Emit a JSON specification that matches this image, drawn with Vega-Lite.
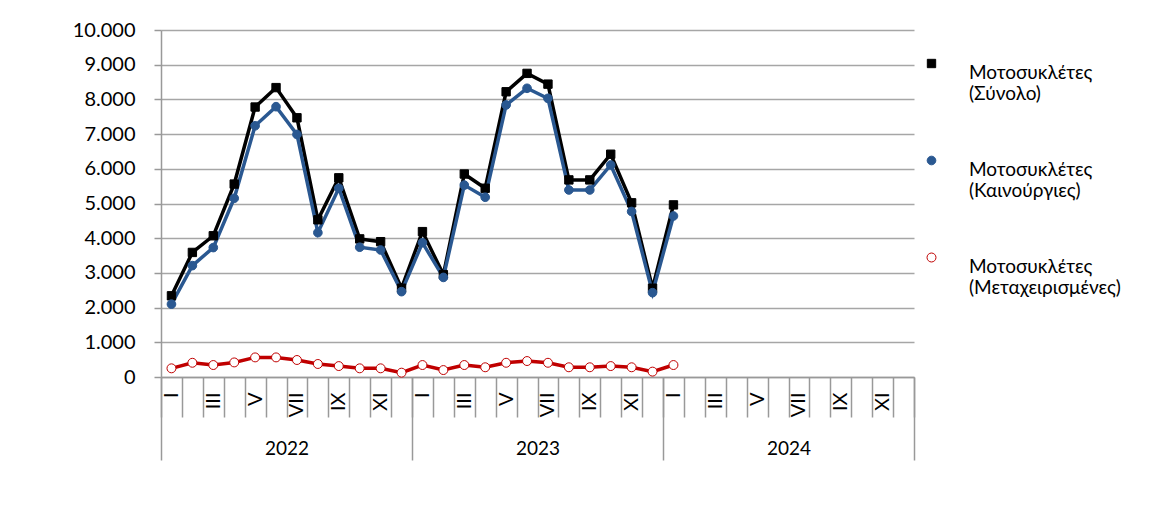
{
  "$schema": "https://vega.github.io/schema/vega-lite/v6.json",
  "width": 753,
  "height": 347,
  "autosize": "none",
  "padding": {"left": 161, "top": 30, "right": 252, "bottom": 139},
  "background": "white",
  "config": {
    "view": {"stroke": null},
    "font": "Lato, 'Open Sans', sans-serif"
  },
  "datasets": {
    "wide": [
      {"m": "2022-01", "t": 2340, "n": 2100, "u": 250},
      {"m": "2022-02", "t": 3590, "n": 3210, "u": 410},
      {"m": "2022-03", "t": 4070, "n": 3730, "u": 345},
      {"m": "2022-04", "t": 5560, "n": 5150, "u": 420},
      {"m": "2022-05", "t": 7780, "n": 7240, "u": 565},
      {"m": "2022-06", "t": 8340, "n": 7790, "u": 565},
      {"m": "2022-07", "t": 7470, "n": 6990, "u": 490},
      {"m": "2022-08", "t": 4530, "n": 4160, "u": 375},
      {"m": "2022-09", "t": 5740, "n": 5440, "u": 315},
      {"m": "2022-10", "t": 3980, "n": 3740, "u": 250},
      {"m": "2022-11", "t": 3900, "n": 3660, "u": 250},
      {"m": "2022-12", "t": 2560, "n": 2460, "u": 125},
      {"m": "2023-01", "t": 4190, "n": 3870, "u": 345},
      {"m": "2023-02", "t": 2950, "n": 2870, "u": 200},
      {"m": "2023-03", "t": 5850, "n": 5530, "u": 345},
      {"m": "2023-04", "t": 5440, "n": 5180, "u": 280},
      {"m": "2023-05", "t": 8220, "n": 7840, "u": 410},
      {"m": "2023-06", "t": 8750, "n": 8320, "u": 460},
      {"m": "2023-07", "t": 8440, "n": 8030, "u": 410},
      {"m": "2023-08", "t": 5680, "n": 5390, "u": 280},
      {"m": "2023-09", "t": 5680, "n": 5390, "u": 280},
      {"m": "2023-10", "t": 6420, "n": 6110, "u": 315},
      {"m": "2023-11", "t": 5020, "n": 4770, "u": 280},
      {"m": "2023-12", "t": 2560, "n": 2430, "u": 155},
      {"m": "2024-01", "t": 4960, "n": 4640, "u": 345}
    ]
  },
  "data": {"name": "wide"},
  "transform": [
    {"fold": ["t", "n", "u"], "as": ["k", "v"]},
    {"lookup": "k", "from": {"data": {"values": [
      {"k": "t", "s": "Μοτοσυκλέτες (Σύνολο)"},
      {"k": "n", "s": "Μοτοσυκλέτες (Καινούργιες)"},
      {"k": "u", "s": "Μοτοσυκλέτες (Μεταχειρισμένες)"}
    ]}, "key": "k", "fields": ["s"]}}
  ],
  "encoding": {
    "y": {
      "field": "v",
      "type": "quantitative",
      "scale": {"domain": [0, 10000], "nice": false},
      "axis": {
        "title": null,
        "values": [0, 1000, 2000, 3000, 4000, 5000, 6000, 7000, 8000, 9000, 10000],
        "labelExpr": "replace(format(datum.value, ','), ',', '.')",
        "labelFontSize": 20,
        "labelColor": "#000000",
        "labelPadding": 19,
        "tickSize": 7,
        "tickColor": "#999999",
        "tickWidth": 1.5,
        "domainColor": "#999999",
        "domainWidth": 1.5,
        "grid": true,
        "gridColor": "#a6a6a6",
        "gridWidth": 1.5
      }
    }
  },
  "layer": [
    {
      "mark": {"type": "line", "strokeWidth": 3.5},
      "encoding": {
        "x": {
          "field": "m",
          "type": "ordinal",
          "scale": {
            "type": "band",
            "paddingInner": 0,
            "paddingOuter": 0,
            "domain": ["2022-01","2022-02","2022-03","2022-04","2022-05","2022-06","2022-07","2022-08","2022-09","2022-10","2022-11","2022-12","2023-01","2023-02","2023-03","2023-04","2023-05","2023-06","2023-07","2023-08","2023-09","2023-10","2023-11","2023-12","2024-01","2024-02","2024-03","2024-04","2024-05","2024-06","2024-07","2024-08","2024-09","2024-10","2024-11","2024-12"]
          },
          "axis": {
            "orient": "bottom",
            "title": null,
            "grid": false,
            "domainColor": "#999999",
            "domainWidth": 1.5,
            "tickBand": "extent",
            "tickSize": 40,
            "tickColor": "#999999",
            "tickWidth": 1.5,
            "labelAngle": -90,
            "labelAlign": "right",
            "labelBaseline": "middle",
            "labelPadding": -25,
            "labelFontSize": 20,
            "labelColor": "#000000",
            "labelOverlap": false,
            "labelBound": false,
            "labelFlush": false,
            "labelExpr": "datum.label ? ['', 'I', '', 'III', '', 'V', '', 'VII', '', 'IX', '', 'XI', ''][toNumber(slice(datum.label, 5))] : ''"
          }
        },
        "color": {
          "field": "s",
          "type": "nominal",
          "scale": {
            "domain": ["Μοτοσυκλέτες (Σύνολο)", "Μοτοσυκλέτες (Καινούργιες)", "Μοτοσυκλέτες (Μεταχειρισμένες)"],
            "range": ["#000000", "#2a5891", "#c00000"]
          },
          "legend": {
            "orient": "none",
            "legendX": 761,
            "legendY": 24,
            "title": null,
            "symbolSize": 2601,
            "symbolStrokeWidth": 3.5,
            "labelFontSize": 19,
            "labelColor": "#000000",
            "labelOffset": 28,
            "labelLimit": 300,
            "rowPadding": 47,
            "labelBaseline": "top",
            "labelExpr": "split(datum.label, ' ')"
          }
        }
      }
    },
    {
      "mark": {"type": "point", "filled": true, "opacity": 1},
      "encoding": {
        "x": {
          "field": "m",
          "type": "ordinal",
          "scale": {
            "type": "band",
            "paddingInner": 0,
            "paddingOuter": 0,
            "domain": ["2022-01","2022-02","2022-03","2022-04","2022-05","2022-06","2022-07","2022-08","2022-09","2022-10","2022-11","2022-12","2023-01","2023-02","2023-03","2023-04","2023-05","2023-06","2023-07","2023-08","2023-09","2023-10","2023-11","2023-12","2024-01","2024-02","2024-03","2024-04","2024-05","2024-06","2024-07","2024-08","2024-09","2024-10","2024-11","2024-12"]
          },
          "axis": {
            "orient": "bottom",
            "title": null,
            "grid": false,
            "domain": false,
            "tickBand": "extent",
            "tickSize": 83,
            "tickColor": "#999999",
            "tickWidth": 1.5,
            "tickOpacity": {"condition": {"test": "datum.index < 0 || indexof(['2022-12', '2023-12', '2024-12'], datum.value) >= 0", "value": 1}, "value": 0},
            "labelAngle": 0,
            "labelAlign": "center",
            "labelBaseline": "top",
            "labelPadding": -21,
            "labelOffset": 10.5,
            "labelFontSize": 19,
            "labelColor": "#000000",
            "labelOverlap": false,
            "labelBound": false,
            "labelFlush": false,
            "labelExpr": "datum.label && slice(datum.label, 5) == '06' ? slice(datum.label, 0, 4) : ''"
          }
        },
        "shape": {
          "field": "s",
          "type": "nominal",
          "scale": {"domain": ["Μοτοσυκλέτες (Σύνολο)", "Μοτοσυκλέτες (Καινούργιες)", "Μοτοσυκλέτες (Μεταχειρισμένες)"], "range": ["square", "circle", "circle"]},
          "legend": null
        },
        "fill": {
          "field": "s",
          "type": "nominal",
          "scale": {"domain": ["Μοτοσυκλέτες (Σύνολο)", "Μοτοσυκλέτες (Καινούργιες)", "Μοτοσυκλέτες (Μεταχειρισμένες)"], "range": ["#000000", "#2a5891", "#ffffff"]},
          "legend": null
        },
        "stroke": {
          "field": "s",
          "type": "nominal",
          "scale": {"domain": ["Μοτοσυκλέτες (Σύνολο)", "Μοτοσυκλέτες (Καινούργιες)", "Μοτοσυκλέτες (Μεταχειρισμένες)"], "range": ["#000000", "#2a5891", "#c00000"]},
          "legend": null
        },
        "size": {
          "field": "s",
          "type": "nominal",
          "scale": {"domain": ["Μοτοσυκλέτες (Σύνολο)", "Μοτοσυκλέτες (Καινούργιες)", "Μοτοσυκλέτες (Μεταχειρισμένες)"], "range": [70, 80, 40]},
          "legend": null
        },
        "strokeWidth": {
          "field": "s",
          "type": "nominal",
          "scale": {"domain": ["Μοτοσυκλέτες (Σύνολο)", "Μοτοσυκλέτες (Καινούργιες)", "Μοτοσυκλέτες (Μεταχειρισμένες)"], "range": [1, 1, 2]},
          "legend": null
        }
      }
    }
  ],
  "resolve": {"axis": {"x": "independent"}}
}
